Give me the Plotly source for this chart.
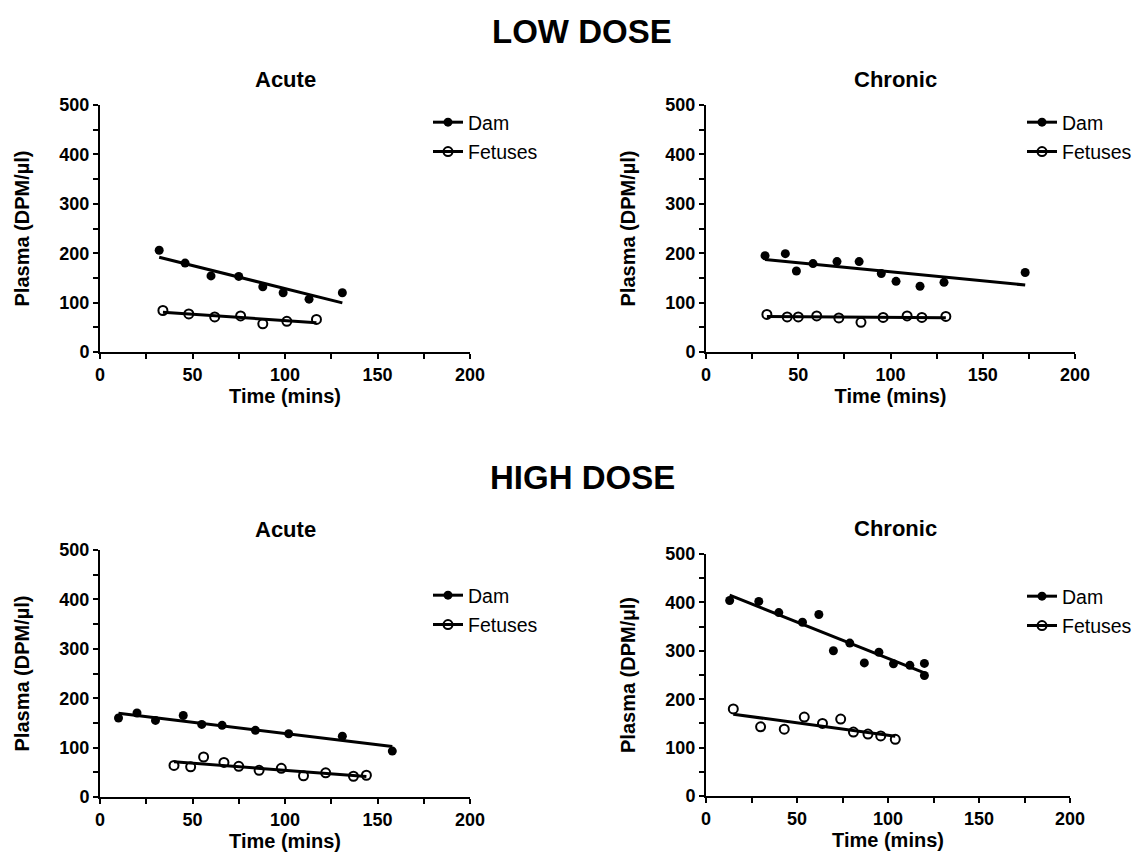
import numpy as np
import plotly.graph_objects as go

# ---------------- data ----------------
# LOW DOSE - Acute
ld_ac_dam_t = [32, 46, 60, 75, 88, 99, 113, 131]
ld_ac_dam_v = [206, 180, 154, 153, 132, 120, 107, 120]
ld_ac_fet_t = [34, 48, 62, 76, 88, 101, 117]
ld_ac_fet_v = [84, 77, 71, 73, 57, 62, 66]

# LOW DOSE - Chronic
ld_ch_dam_t = [32, 43, 49, 58, 71, 83, 95, 103, 116, 129, 173]
ld_ch_dam_v = [195, 199, 164, 179, 183, 183, 159, 143, 133, 141, 161]
ld_ch_fet_t = [33, 44, 50, 60, 72, 84, 96, 109, 117, 130]
ld_ch_fet_v = [76, 71, 71, 73, 69, 60, 70, 73, 70, 72]

# HIGH DOSE - Acute
hd_ac_dam_t = [10, 20, 30, 45, 55, 66, 84, 102, 131, 158]
hd_ac_dam_v = [160, 170, 155, 165, 147, 145, 135, 128, 123, 93]
hd_ac_fet_t = [40, 49, 56, 67, 75, 86, 98, 110, 122, 137, 144]
hd_ac_fet_v = [64, 61, 81, 70, 62, 54, 58, 43, 49, 42, 44]

# HIGH DOSE - Chronic
hd_ch_dam_t = [13, 29, 40, 53, 62, 70, 79, 87, 95, 103, 112, 120, 120]
hd_ch_dam_v = [404, 402, 379, 359, 375, 300, 316, 275, 297, 273, 270, 274, 249]
hd_ch_fet_t = [15, 30, 43, 54, 64, 74, 81, 89, 96, 104]
hd_ch_fet_v = [180, 143, 138, 163, 150, 159, 132, 128, 124, 117]

series_names = ["Dam", "Fetuses"]
x_ticks = [0, 50, 100, 150, 200]
y_ticks = [0, 100, 200, 300, 400, 500]

FONT = "Liberation Sans, Arial, Helvetica, sans-serif"
PAGE_W, PAGE_H = 1140, 856
OFF = 8  # default page body margin
W, H = PAGE_W - OFF, PAGE_H - OFF

panels = [
    ("", ld_ac_dam_t, ld_ac_dam_v, ld_ac_fet_t, ld_ac_fet_v, "legend"),
    ("2", ld_ch_dam_t, ld_ch_dam_v, ld_ch_fet_t, ld_ch_fet_v, "legend2"),
    ("3", hd_ac_dam_t, hd_ac_dam_v, hd_ac_fet_t, hd_ac_fet_v, "legend3"),
    ("4", hd_ch_dam_t, hd_ch_dam_v, hd_ch_fet_t, hd_ch_fet_v, "legend4"),
]

fig = go.Figure()

dam_marker = dict(symbol="circle", size=9, color="black", line=dict(width=0))
fet_marker = dict(symbol="circle-open", size=9, color="black", line=dict(width=2, color="black"))

def fit_line(t, v):
    t = np.asarray(t, float)
    v = np.asarray(v, float)
    m, b = np.polyfit(t, v, 1)
    xs = np.array([t.min(), t.max()])
    return xs, m * xs + b

for suf, dt, dv, ft, fv, leg in panels:
    xa, ya = "x" + suf, "y" + suf
    for (t, v, mk, name) in [(dt, dv, dam_marker, series_names[0]),
                             (ft, fv, fet_marker, series_names[1])]:
        lx, ly = fit_line(t, v)
        fig.add_trace(go.Scatter(x=lx, y=ly, mode="lines", xaxis=xa, yaxis=ya,
                                 line=dict(color="black", width=3),
                                 showlegend=False, hoverinfo="skip"))
        fig.add_trace(go.Scatter(x=t, y=v, mode="markers", xaxis=xa, yaxis=ya,
                                 marker=mk, showlegend=False, name=name))
        # legend entry (line + marker symbol)
        fig.add_trace(go.Scatter(x=[None], y=[None], mode="lines+markers",
                                 xaxis=xa, yaxis=ya, marker=mk,
                                 line=dict(color="black", width=3),
                                 name=name, legend=leg, legendgroup=leg + name,
                                 showlegend=True))

def px_x(p):
    return (p - OFF) / W

def px_y(p):
    return 1 - (p - OFF) / H

# plot area pixel boxes in page coords (x0, x1, ytop, ybottom)
boxes = {
    "": (100, 470, 105, 352),
    "2": (706, 1075, 105, 352),
    "3": (100, 470, 550, 797),
    "4": (706, 1070, 554, 796),
}

tickfont = dict(family=FONT, size=18, color="black", weight="bold")
titlefont = dict(family=FONT, size=20, color="black", weight="bold")

layout = dict(
    width=W, height=H,
    margin=dict(l=0, r=0, t=0, b=0),
    paper_bgcolor="white", plot_bgcolor="white",
    font=dict(family=FONT, color="black"),
)

for suf, (x0, x1, yt, yb) in boxes.items():
    layout["xaxis" + suf] = dict(
        domain=[px_x(x0), px_x(x1)], anchor="y" + suf,
        range=[0, 200], tickvals=x_ticks, showgrid=False, zeroline=False,
        showline=True, linewidth=2, linecolor="black",
        ticks="outside", ticklen=5, tickwidth=2, tickcolor="black",
        minor=dict(ticks="outside", ticklen=5, tickwidth=2, tickcolor="black", dtick=25, tick0=0),
        tickfont=tickfont, automargin=False,
        title=dict(text="Time (mins)", font=titlefont, standoff=2),
    )
    layout["yaxis" + suf] = dict(
        domain=[px_y(yb), px_y(yt)], anchor="x" + suf,
        range=[0, 500], tickvals=y_ticks, showgrid=False, zeroline=False,
        showline=True, linewidth=2, linecolor="black",
        ticks="outside", ticklen=5, tickwidth=2, tickcolor="black",
        minor=dict(ticks="outside", ticklen=5, tickwidth=2, tickcolor="black", dtick=50, tick0=0),
        tickfont=tickfont, automargin=False,
        title=dict(text="Plasma (DPM/µl)", font=titlefont, standoff=24),
    )

legend_pos = {
    "legend": (428, 103),
    "legend2": (1022, 103),
    "legend3": (428, 576),
    "legend4": (1022, 577),
}
for leg, (lx, ly) in legend_pos.items():
    layout[leg] = dict(
        x=px_x(lx), y=px_y(ly), xanchor="left", yanchor="top",
        bgcolor="rgba(0,0,0,0)", borderwidth=0,
        font=dict(family=FONT, size=19.5, color="black"),
        itemwidth=30, tracegroupgap=1,
    )

annotations = [
    dict(text="LOW DOSE", x=582, y=31, size=33),
    dict(text="HIGH DOSE", x=582, y=478, size=33),
    dict(text="Acute", x=285, y=79, size=22),
    dict(text="Chronic", x=895, y=79, size=22),
    dict(text="Acute", x=285, y=529, size=22),
    dict(text="Chronic", x=895, y=528, size=22),
]
layout["annotations"] = [
    dict(text=a["text"], x=px_x(a["x"]), y=px_y(a["y"]), xref="paper", yref="paper",
         xanchor="center", yanchor="middle", showarrow=False,
         font=dict(family=FONT, size=a["size"], color="black", weight="bold"))
    for a in annotations
]

fig.update_layout(**layout)
fig.write_html("out.html")
